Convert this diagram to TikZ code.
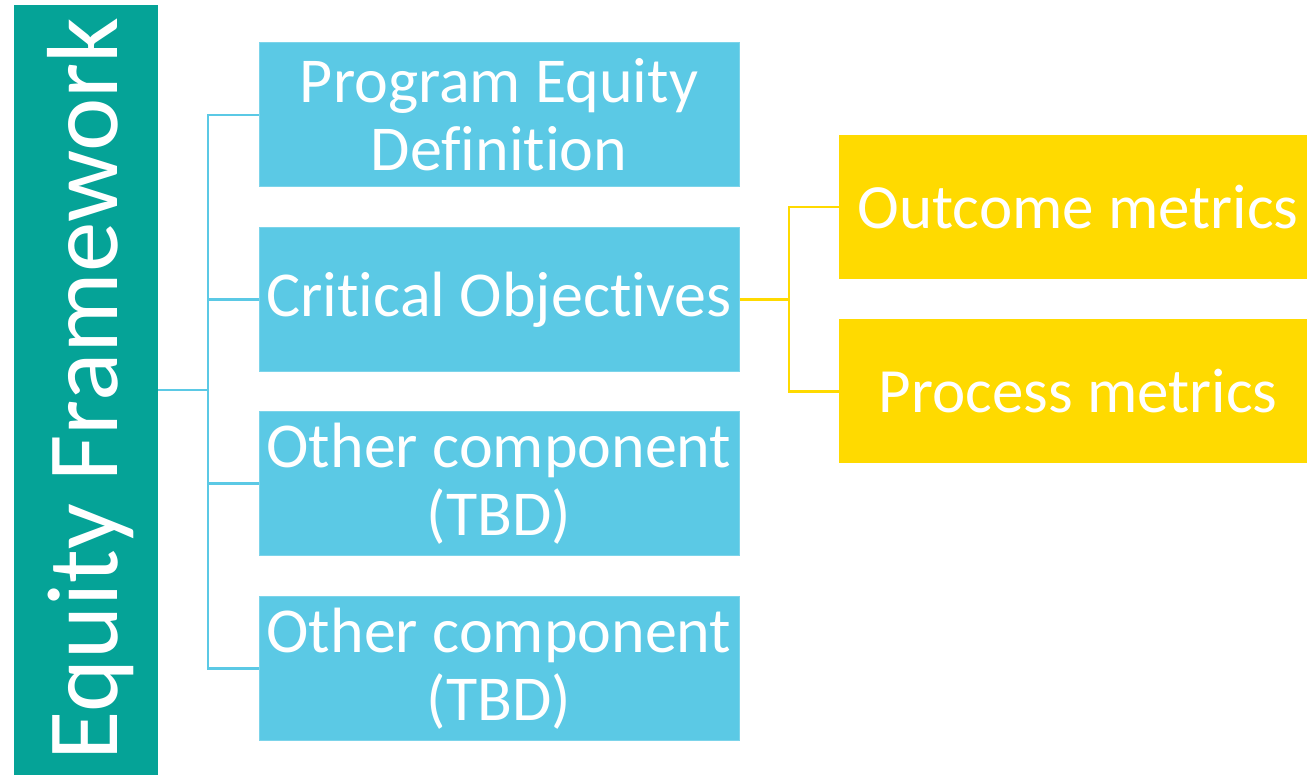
\documentclass[tikz,border=0pt]{standalone}
\usepackage{fontspec}
\setmainfont[Ligatures=NoCommon]{Carlito}
\definecolor{tealc}{HTML}{05A397}
\definecolor{bluec}{HTML}{5BC9E5}
\definecolor{yelc}{HTML}{FFDA00}
\tikzset{
  bluebox/.style={fill=bluec, draw=bluec!80!white, line width=1pt, minimum width=480pt, minimum height=144pt, inner sep=0pt, text=white, align=center, font=\fontsize{64}{68}\selectfont},
  yelbox/.style={fill=yelc, minimum width=468pt, minimum height=144pt, inner sep=0pt, text=white, font=\fontsize{63}{70}\selectfont},
  bline/.style={draw=bluec, line width=2.5pt},
  yline/.style={draw=yelc, line width=2.5pt},
}
\begin{document}
\begin{tikzpicture}[x=1pt,y=-1pt]
\useasboundingbox (0,0) rectangle (1307,775);
\fill[white] (0,0) rectangle (1307,775);
\node[fill=tealc, minimum width=144pt, minimum height=770pt, inner sep=0pt] (teal) at (86,390) {};
\node[rotate=90, text=white, font=\fontsize{101}{110}\selectfont, anchor=base] (tealtxt) at (117,389) {Equity Framework};
\node[bluebox] (b1) at (499,115) {Program Equity\\Definition};
\node[bluebox] (b2) at (499,299.5) {Critical Objectives};
\node[bluebox] (b3) at (499,483.5) {Other component\\(TBD)};
\node[bluebox] (b4) at (499,668.5) {Other component\\(TBD)};
\node[yelbox] (y1) at (1073,207) {\hspace*{10pt}Outcome metrics};
\node[yelbox] (y2) at (1073,391.5) {\hspace*{10pt}Process metrics};
\coordinate (bj) at (208,390);
\coordinate (yj) at (789,299.5);
\draw[bline] (teal.east) -- (bj);
\draw[bline] (bj) |- (b1.west);
\draw[bline] (bj) |- (b2.west);
\draw[bline] (bj) |- (b3.west);
\draw[bline] (bj) |- (b4.west);
\draw[yline] (b2.east) -- (yj);
\draw[yline] (yj) |- (y1.west);
\draw[yline] (yj) |- (y2.west);
\end{tikzpicture}
\end{document}
